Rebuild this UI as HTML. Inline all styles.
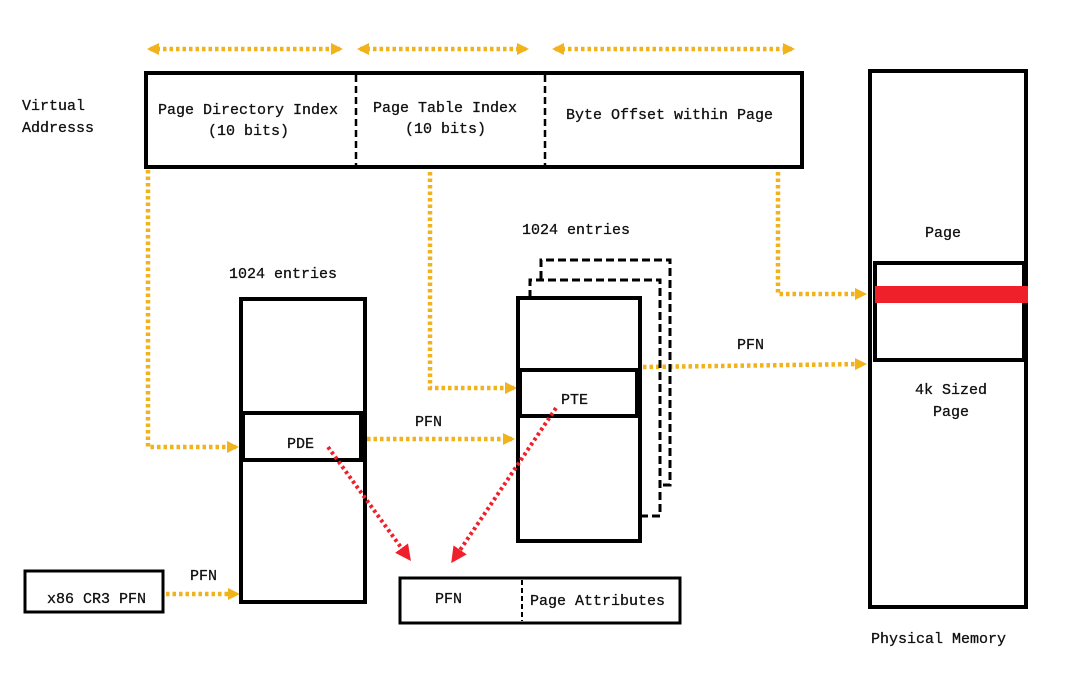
<!DOCTYPE html>
<html><head><meta charset="utf-8"><style>
html,body{margin:0;padding:0;background:#fff;width:1085px;height:673px;overflow:hidden}
text{font-family:"Liberation Mono",monospace;font-size:15px;fill:#111;stroke:#111;stroke-width:0.3}
</style></head><body>
<svg width="1085" height="673" viewBox="0 0 1085 673" xmlns="http://www.w3.org/2000/svg">
<defs>
<marker id="ob" markerWidth="12" markerHeight="12" refX="9" refY="6" orient="auto-start-reverse" markerUnits="userSpaceOnUse"><path d="M0,0 L12,6 L0,12 z" fill="#f2b21b"/></marker>
<marker id="ra" markerWidth="16" markerHeight="16" refX="11" refY="8" orient="auto" markerUnits="userSpaceOnUse"><path d="M0,0 L16,8 L0,16 z" fill="#f0202a"/></marker>
</defs>
<g stroke="#f2b21b" stroke-width="4.5" stroke-dasharray="3.5,3" fill="none">
<line x1="150" y1="49" x2="340" y2="49" marker-start="url(#ob)" marker-end="url(#ob)"/>
<line x1="360" y1="49" x2="526" y2="49" marker-start="url(#ob)" marker-end="url(#ob)"/>
<line x1="555" y1="49" x2="792" y2="49" marker-start="url(#ob)" marker-end="url(#ob)"/>
<polyline points="148,170 148,447 236,447" marker-end="url(#ob)"/>
<polyline points="430,172 430,388 514,388" marker-end="url(#ob)"/>
<polyline points="778,172 778,294 864,294" marker-end="url(#ob)"/>
<line x1="367" y1="439" x2="512" y2="439" marker-end="url(#ob)"/>
<line x1="643" y1="367" x2="864" y2="364" marker-end="url(#ob)"/>
<line x1="166" y1="594" x2="237" y2="594" marker-end="url(#ob)"/>
</g>
<g fill="none" stroke="#000">
<rect x="146" y="73" width="656" height="94" stroke-width="4"/>
<line x1="356" y1="75" x2="356" y2="165" stroke-width="2.5" stroke-dasharray="7,4"/>
<line x1="545" y1="75" x2="545" y2="165" stroke-width="2.5" stroke-dasharray="7,4"/>
<polyline points="541,279 541,260 670,260 670,485 661,485" stroke-width="3" stroke-dasharray="8,4"/>
<polyline points="530,298 530,280 660,280 660,516 642,516" stroke-width="3" stroke-dasharray="8,4"/>
<rect x="241" y="299" width="124" height="303" stroke-width="4" fill="#fff"/>
<rect x="243" y="413" width="118" height="47" stroke-width="4"/>
<rect x="518" y="298" width="122" height="243" stroke-width="4" fill="#fff"/>
<rect x="520" y="370" width="117" height="46" stroke-width="4"/>
<rect x="870" y="71" width="156" height="536" stroke-width="4"/>
<rect x="875" y="263" width="149" height="97" stroke-width="4"/>
<rect x="25" y="571" width="138" height="41" stroke-width="3"/>
<rect x="400" y="578" width="280" height="45" stroke-width="3"/>
<line x1="522" y1="580" x2="522" y2="621" stroke-width="2" stroke-dasharray="5,3"/>
</g>
<rect x="875" y="286" width="153" height="17" fill="#f0202a"/>
<g stroke="#f0202a" stroke-width="4" stroke-dasharray="3,3" fill="none">
<line x1="328" y1="447" x2="408" y2="557" marker-end="url(#ra)"/>
<line x1="556" y1="408" x2="454" y2="559" marker-end="url(#ra)"/>
</g>
<text x="22" y="110">Virtual</text>
<text x="22" y="132">Addresss</text>
<text x="158" y="114">Page Directory Index</text>
<text x="208" y="135">(10 bits)</text>
<text x="373" y="112">Page Table Index</text>
<text x="405" y="133">(10 bits)</text>
<text x="566" y="119">Byte Offset within Page</text>
<text x="229" y="278">1024 entries</text>
<text x="522" y="234">1024 entries</text>
<text x="287" y="448">PDE</text>
<text x="561" y="404">PTE</text>
<text x="415" y="426">PFN</text>
<text x="737" y="349">PFN</text>
<text x="190" y="580">PFN</text>
<text x="47" y="603">x86 CR3 PFN</text>
<text x="435" y="603">PFN</text>
<text x="530" y="605">Page Attributes</text>
<text x="925" y="237">Page</text>
<text x="915" y="394">4k Sized</text>
<text x="933" y="416">Page</text>
<text x="871" y="643">Physical Memory</text>
</svg>
</body></html>
